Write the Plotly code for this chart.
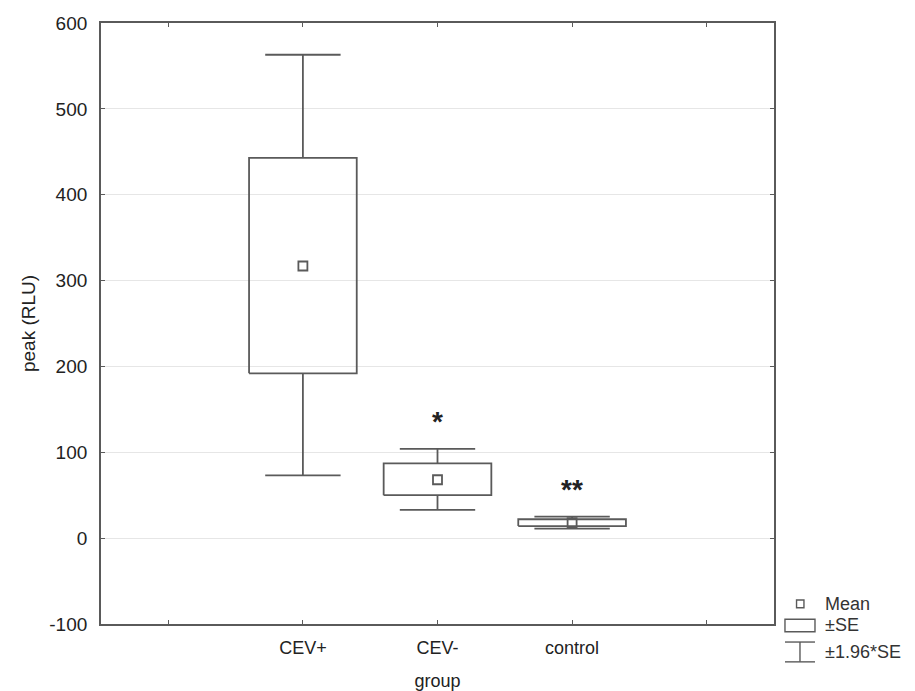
import plotly.graph_objects as go

# ---- data ----
groups = ["CEV+", "CEV-", "control"]
positions = [1, 2, 3]
means = [317, 68, 18]
se_low = [192, 50, 14]
se_high = [443, 87, 22]
ci_low = [73, 33, 11]
ci_high = [563, 104, 25]
sig_labels = ["", "*", "**"]
y_ticks = [-100, 0, 100, 200, 300, 400, 500, 600]
y_tick_text = ["-100", "0", "100", "200", "300", "400", "500", "600"]

BOX_W = 0.8
CAP_W = 0.56
LINE = "#5a5a5a"
FONT = "Liberation Sans"

fig = go.Figure()

for x, m, lo, hi, wlo, whi in zip(positions, means, se_low, se_high, ci_low, ci_high):
    # SE box
    fig.add_trace(go.Scatter(
        x=[x - BOX_W / 2, x + BOX_W / 2, x + BOX_W / 2, x - BOX_W / 2, x - BOX_W / 2],
        y=[lo, lo, hi, hi, lo], mode="lines",
        line=dict(color=LINE, width=1.8), showlegend=False, hoverinfo="skip"))
    # whiskers
    fig.add_trace(go.Scatter(
        x=[x - CAP_W / 2, x + CAP_W / 2, None, x, x, None, x, x, None, x - CAP_W / 2, x + CAP_W / 2],
        y=[whi, whi, None, whi, hi, None, lo, wlo, None, wlo, wlo], mode="lines",
        line=dict(color=LINE, width=1.8), showlegend=False, hoverinfo="skip"))
    # mean
    fig.add_trace(go.Scatter(
        x=[x], y=[m], mode="markers",
        marker=dict(symbol="square-open", size=9, color=LINE, line=dict(width=1.8)),
        showlegend=False, hoverinfo="skip"))

# significance asterisks
for x, hi, lab in zip(positions, ci_high, sig_labels):
    if lab:
        fig.add_annotation(x=x, y=hi, yshift=27, text="<b>" + lab + "</b>", showarrow=False,
                           font=dict(size=28, color="#222", family=FONT))

# legend (drawn manually, paper coords relative to plot area)
legend_font = dict(size=18, color="#333", family=FONT)
shapes = [
    dict(type="rect", xref="paper", yref="paper", x0=1.0335, x1=1.0445, y0=0.027, y1=0.040,
         line=dict(color=LINE, width=1.4)),
    dict(type="rect", xref="paper", yref="paper", x0=1.0163, x1=1.0609, y0=-0.013, y1=0.008,
         line=dict(color=LINE, width=1.4)),
    dict(type="line", xref="paper", yref="paper", x0=1.0163, x1=1.0609, y0=-0.030, y1=-0.030,
         line=dict(color=LINE, width=1.4)),
    dict(type="line", xref="paper", yref="paper", x0=1.0386, x1=1.0386, y0=-0.030, y1=-0.063,
         line=dict(color=LINE, width=1.4)),
    dict(type="line", xref="paper", yref="paper", x0=1.0163, x1=1.0609, y0=-0.063, y1=-0.063,
         line=dict(color=LINE, width=1.4)),
]
for txt, yy in [("Mean", 0.033), ("±SE", -0.002), ("±1.96*SE", -0.047)]:
    fig.add_annotation(xref="paper", yref="paper", x=1.073, y=yy, text=txt,
                       showarrow=False, xanchor="left", yanchor="middle", font=legend_font)

fig.update_layout(
    width=907, height=683,
    margin=dict(l=93, r=141, t=15, b=67),
    paper_bgcolor="white", plot_bgcolor="white",
    font=dict(family=FONT, size=18, color="#222"),
    shapes=shapes,
    showlegend=False,
)
fig.update_xaxes(
    range=[-0.5, 4.5], tickvals=[0, 1, 2, 3, 4], ticktext=[""] + groups + [""],
    ticks="inside", ticklen=4, tickcolor=LINE, mirror="ticks", showline=True,
    linecolor=LINE, linewidth=1.8, showgrid=False, zeroline=False,
    ticklabelstandoff=6, automargin=False,
    title=dict(text="group", standoff=19, font=dict(size=18)),
    tickfont=dict(size=18),
)
fig.update_yaxes(
    range=[-100, 600], tickvals=y_ticks, ticktext=y_tick_text,
    ticks="inside", ticklen=4, tickcolor=LINE, mirror="ticks", showline=True,
    linecolor=LINE, linewidth=1.8, showgrid=True, gridcolor="#e6e6e6", gridwidth=1,
    zeroline=False, ticklabelstandoff=8, automargin=False,
    title=dict(text="peak (RLU)", standoff=9, font=dict(size=19)),
    tickfont=dict(size=19),
)

fig.write_html("out.html")
